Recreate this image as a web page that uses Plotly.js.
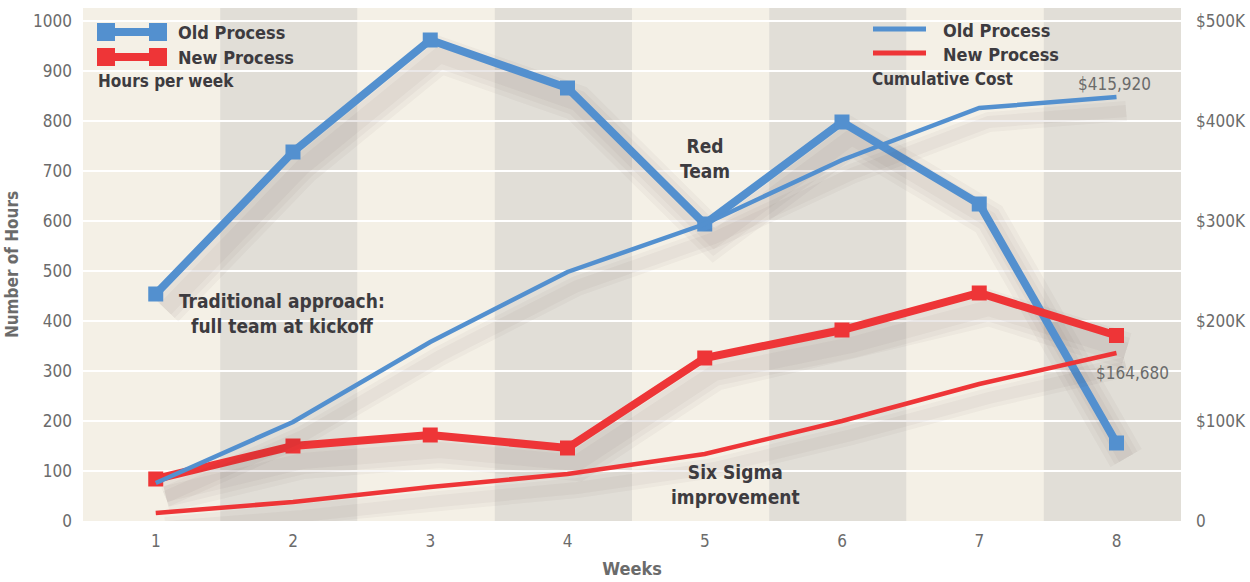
<!DOCTYPE html>
<html>
<head>
<meta charset="utf-8">
<script src="https://cdn.plot.ly/plotly-3.0.1.min.js"></script>
<style>
html,body{margin:0;padding:0;background:#ffffff;}
#chart{width:1250px;height:582px;}
</style>
</head>
<body>
<div id="chart"></div>
<script>
// ---- data ----
var weeks = [1, 2, 3, 4, 5, 6, 7, 8];
var oldHours = [454, 738, 962, 866, 594, 798, 634, 156];
var newHours = [84, 150, 172, 146, 326, 382, 456, 371];
var oldCostK = [38, 99, 179, 249, 297, 361, 413, 424];
var newCostK = [8, 19, 34, 47, 67, 100, 137, 168];
var hourTicks = [0, 100, 200, 300, 400, 500, 600, 700, 800, 900, 1000];
var costTickVals = [0, 100, 200, 300, 400, 500];
var costTickText = ['0', '$100K', '$200K', '$300K', '$400K', '$500K'];
var oldCostLabel = '$415,920';
var newCostLabel = '$164,680';

// ---- styles ----
var BLUE = '#5390cf';
var RED = '#ee3537';
var DARK = '#3d3b3f';
var GREY = '#6b6b6b';
var FONT = '"Liberation Sans Narrow", "DejaVu Sans Condensed", "Roboto", sans-serif';
var CREAM = '#f4f0e6';
var BAND = '#e1ded7';

function shift(arr, d) { return arr.map(function (v) { return v + d; }); }

var traces = [];
// soft, diffuse shadows (several faint layers)
[[oldHours, 'y', -30, [36, 26, 16]], [newHours, 'y', -30, [36, 26, 16]],
 [oldCostK, 'y2', -14, [20, 12]], [newCostK, 'y2', -14, [20, 12]]].forEach(function (s) {
  s[3].forEach(function (wd) {
    traces.push({x: shift(weeks, 0.07), y: shift(s[0], s[2]), yaxis: s[1], mode: 'lines', hoverinfo: 'skip', showlegend: false,
      line: {color: 'rgba(70,60,50,0.04)', width: wd}});
  });
});
traces.push({x: weeks, y: oldCostK, yaxis: 'y2', mode: 'lines', name: 'Old Process cost', showlegend: false,
  line: {color: BLUE, width: 4.5}});
traces.push({x: weeks, y: newCostK, yaxis: 'y2', mode: 'lines', name: 'New Process cost', showlegend: false,
  line: {color: RED, width: 4.5}});
traces.push({x: weeks, y: oldHours, mode: 'lines+markers', name: 'Old Process', showlegend: false,
  line: {color: BLUE, width: 8}, marker: {symbol: 'square', size: 15, color: BLUE}});
traces.push({x: weeks, y: newHours, mode: 'lines+markers', name: 'New Process', showlegend: false,
  line: {color: RED, width: 8}, marker: {symbol: 'square', size: 15, color: RED}});

// background bands (one per week)
var shapes = [];
weeks.forEach(function (w, i) {
  shapes.push({type: 'rect', layer: 'below', xref: 'x', yref: 'paper', x0: w - 0.53, x1: w + 0.47, y0: 0, y1: 1,
    fillcolor: i % 2 === 0 ? CREAM : BAND, line: {width: 0}});
});

// pixel helpers for legend drawing (plot area 83..1181 x 8..521)
var L = 83, R = 1181, T = 8, B = 521;
function px(x) { return (x - L) / (R - L); }
function py(y) { return (B - y) / (B - T); }

// top-left legend symbols
[[BLUE, 32], [RED, 57]].forEach(function (s) {
  shapes.push({type: 'line', xref: 'paper', yref: 'paper', x0: px(100), x1: px(164), y0: py(s[1]), y1: py(s[1]), line: {color: s[0], width: 8}});
  shapes.push({type: 'rect', xref: 'paper', yref: 'paper', x0: px(97), x1: px(115), y0: py(s[1] - 9), y1: py(s[1] + 9), fillcolor: s[0], line: {width: 0}});
  shapes.push({type: 'rect', xref: 'paper', yref: 'paper', x0: px(149), x1: px(167), y0: py(s[1] - 9), y1: py(s[1] + 9), fillcolor: s[0], line: {width: 0}});
});
// top-right legend symbols
[[BLUE, 29], [RED, 53]].forEach(function (s) {
  shapes.push({type: 'line', xref: 'paper', yref: 'paper', x0: px(873), x1: px(926), y0: py(s[1]), y1: py(s[1]), line: {color: s[0], width: 5}});
});

function ann(text, x, y, opts) {
  var a = {xref: 'paper', yref: 'paper', x: px(x), y: py(y), text: text, showarrow: false,
    font: {family: FONT, size: 19, color: DARK}, xanchor: 'left', yanchor: 'middle', align: 'center'};
  for (var k in opts) a[k] = opts[k];
  return a;
}
var annotations = [
  ann('<b>Old Process</b>', 176, 32, {font: {family: FONT, size: 18, color: DARK}}),
  ann('<b>New Process</b>', 176, 57, {font: {family: FONT, size: 18, color: DARK}}),
  ann('<b>Hours per week</b>', 96, 81, {font: {family: FONT, size: 17, color: DARK}}),
  ann('<b>Old Process</b>', 941, 30, {font: {family: FONT, size: 18, color: DARK}}),
  ann('<b>New Process</b>', 941, 54, {font: {family: FONT, size: 18, color: DARK}}),
  ann('<b>Cumulative Cost</b>', 870, 79, {font: {family: FONT, size: 17, color: DARK}}),
  {xref: 'x', yref: 'y2', x: weeks[7], y: oldCostK[7], text: oldCostLabel, showarrow: false, xanchor: 'center', yanchor: 'bottom', yshift: 1, xshift: -2,
    font: {family: FONT, size: 17, color: GREY}},
  {xref: 'x', yref: 'y2', x: weeks[7], y: newCostK[7], text: newCostLabel, showarrow: false, xanchor: 'left', yanchor: 'top', yshift: -8, xshift: -22,
    font: {family: FONT, size: 17, color: GREY}},
  ann('<b>Red<br>Team</b>', 705, 158),
  ann('<b>Traditional approach:<br>full team at kickoff</b>', 282, 313),
  ann('<b>Six Sigma<br>improvement</b>', 735, 484)
];
annotations.slice(8).forEach(function (a) { a.xanchor = 'center'; });

var layout = {
  width: 1250, height: 582,
  margin: {l: 83, r: 69, t: 8, b: 61, pad: 0},
  paper_bgcolor: '#ffffff',
  plot_bgcolor: CREAM,
  showlegend: false,
  font: {family: FONT, color: GREY, size: 17},
  xaxis: {range: [0.47, 8.47], tickvals: weeks, ticktext: weeks.map(String), showgrid: false, zeroline: false,
    showline: false, ticks: '', ticklabelstandoff: 8, tickfont: {family: FONT, size: 17, color: GREY},
    title: {text: '<b>Weeks</b>', font: {family: FONT, size: 18, color: GREY}, standoff: 12}},
  yaxis: {range: [0, 1026], tickvals: hourTicks, showgrid: true, gridcolor: '#ffffff', gridwidth: 1.5, zeroline: false,
    showline: false, ticks: '', ticklabelstandoff: 10, tickfont: {family: FONT, size: 17, color: GREY},
    title: {text: '<b>Number of Hours</b>', font: {family: FONT, size: 17, color: GREY}, standoff: 10}},
  yaxis2: {range: [0, 513], overlaying: 'y', side: 'right', tickvals: costTickVals, ticktext: costTickText,
    showgrid: false, zeroline: false, showline: false, ticks: '', ticklabelstandoff: 14,
    tickfont: {family: FONT, size: 17, color: GREY}},
  shapes: shapes,
  annotations: annotations
};

Plotly.newPlot('chart', traces, layout, {displayModeBar: false, staticPlot: true});
</script>
</body>
</html>
